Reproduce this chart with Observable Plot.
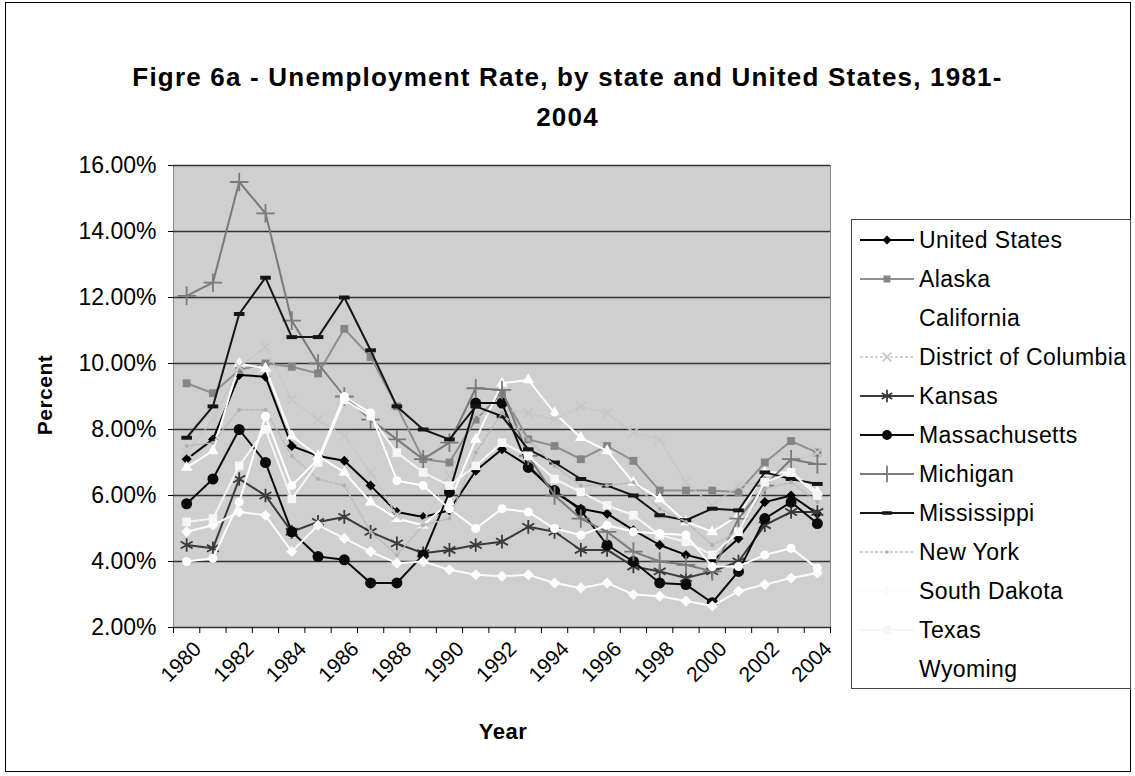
<!DOCTYPE html>
<html><head><meta charset="utf-8">
<script src="https://cdn.jsdelivr.net/npm/d3@7"></script>
<script src="https://cdn.jsdelivr.net/npm/@observablehq/plot@0.6"></script>
<style>
body{margin:0;background:#fff;font-family:"Liberation Sans",Arial,sans-serif;color:#000;}
#wrap{position:relative;width:1135px;height:776px;overflow:hidden;background:#fff;}
#border{position:absolute;left:5px;top:2px;width:1126px;height:770px;border:1.5px solid #000;box-sizing:border-box;}
#title{position:absolute;left:0;width:1135px;top:57px;text-align:center;font-weight:bold;font-size:26px;letter-spacing:1.2px;line-height:40px;}
#chart{position:absolute;left:0;top:0;}
#ylab{position:absolute;left:45px;top:395px;transform:translate(-50%,-50%) rotate(-90deg);font-weight:bold;font-size:21px;letter-spacing:0.5px;white-space:nowrap;}
#xlab{position:absolute;left:503px;top:732px;transform:translate(-50%,-50%);font-weight:bold;font-size:22px;letter-spacing:0.5px;}
#legend{position:absolute;left:851px;top:219px;width:280px;height:470px;border:1px solid #444;box-sizing:border-box;background:#fff;}
.row{position:absolute;left:0;height:30px;display:flex;align-items:center;}
.row svg{margin-left:8px;}
.row span{margin-left:5px;font-size:23px;letter-spacing:0.4px;white-space:nowrap;}
</style></head>
<body>
<div id="wrap">
  <div id="chart"></div>
  <div id="border"></div>
  <div id="title">Figre 6a - Unemployment Rate, by state and United States, 1981-<br>2004</div>
  <div id="ylab">Percent</div>
  <div id="xlab">Year</div>
  <div id="legend"></div>
</div>
<script>
const years = [1980,1981,1982,1983,1984,1985,1986,1987,1988,1989,1990,1991,1992,1993,1994,1995,1996,1997,1998,1999,2000,2001,2002,2003,2004];
const xTickLabels = [1980,1982,1984,1986,1988,1990,1992,1994,1996,1998,2000,2002,2004];
const yTicks = [0.02,0.04,0.06,0.08,0.10,0.12,0.14,0.16];

const unitedStates   = [7.1,7.7,9.65,9.6,7.5,7.2,7.05,6.3,5.5,5.35,5.55,6.75,7.4,6.9,6.1,5.6,5.45,4.95,4.5,4.2,4.0,4.7,5.8,6.0,5.45];
const alaska         = [9.4,9.1,9.8,10.0,9.9,9.7,11.05,10.2,8.7,7.1,7.0,8.3,9.1,7.7,7.5,7.1,7.5,7.05,6.15,6.15,6.15,6.1,7.0,7.65,7.3];
const california     = [6.85,7.35,10.0,9.85,7.8,7.2,6.7,5.8,5.3,5.1,5.8,7.7,9.4,9.5,8.5,7.75,7.35,6.4,5.9,5.2,4.9,5.4,6.7,6.7,6.1];
const districtOfColumbia = [7.3,8.3,9.9,10.5,8.9,8.3,7.8,6.7,5.4,5.2,6.6,8.5,8.6,8.5,8.3,8.7,8.5,7.9,7.7,6.4,5.7,6.3,6.4,7.0,7.3];
const kansas         = [4.5,4.4,6.5,6.0,4.9,5.2,5.35,4.9,4.55,4.25,4.35,4.5,4.6,5.05,4.9,4.35,4.35,3.85,3.7,3.5,3.7,4.0,5.1,5.5,5.5];
const massachusetts  = [5.75,6.5,8.0,7.0,4.9,4.15,4.05,3.35,3.35,4.2,6.1,8.8,8.8,6.85,6.15,5.55,4.5,4.0,3.35,3.3,2.75,3.7,5.3,5.8,5.15];
const michigan       = [12.05,12.45,15.5,14.55,11.3,10.0,9.0,8.3,7.7,7.1,7.6,9.25,9.2,7.2,6.0,5.3,4.9,4.3,4.0,3.9,3.7,5.3,6.3,7.1,6.95];
const mississippi    = [7.75,8.7,11.5,12.6,10.8,10.8,12.0,10.4,8.7,8.0,7.7,8.7,8.4,7.4,7.0,6.5,6.3,6.0,5.4,5.25,5.6,5.55,6.7,6.5,6.35];
const newYork        = [7.5,7.6,8.6,8.6,7.2,6.5,6.3,4.9,4.2,5.1,5.3,7.3,8.5,7.7,6.9,6.3,6.3,6.4,5.6,5.2,4.5,4.9,6.2,6.4,5.8];
const southDakota    = [4.9,5.1,5.5,5.4,4.3,5.1,4.7,4.3,3.95,4.0,3.75,3.6,3.55,3.6,3.35,3.2,3.35,3.0,2.95,2.8,2.65,3.1,3.3,3.5,3.65];
const texas          = [5.2,5.3,6.9,8.0,5.9,7.0,8.9,8.4,7.3,6.7,6.3,6.9,7.6,7.2,6.5,6.1,5.7,5.4,4.8,4.6,4.2,4.9,6.4,6.7,6.0];
const wyoming        = [4.0,4.1,5.8,8.4,6.3,7.1,9.0,8.5,6.45,6.3,5.6,5.0,5.6,5.5,5.0,4.8,5.1,4.9,4.85,4.8,3.85,3.85,4.2,4.4,3.8];

const dash = {draw(ctx, size){const s=Math.sqrt(size); ctx.rect(-s*0.75,-s*0.28,s*1.5,s*0.56);}};

const series = [
  {name:"United States", values:unitedStates, stroke:"#000", fill:"#000", symbol:"diamond2", r:4.5, w:2},
  {name:"Alaska", values:alaska, stroke:"#8f8f8f", fill:"#858585", symbol:"square2", r:5, w:2},
  {name:"California", values:california, stroke:"#fff", fill:"#fff", symbol:"triangle2", r:5.5, w:2},
  {name:"District of Columbia", values:districtOfColumbia, stroke:"#c6c6c6", fill:"none", symbol:"times", r:4.5, w:1.5, dot:true},
  {name:"Kansas", values:kansas, stroke:"#3a3a3a", fill:"none", symbol:"asterisk", r:6.5, w:2},
  {name:"Massachusetts", values:massachusetts, stroke:"#0a0a0a", fill:"#0a0a0a", symbol:"circle", r:5.5, w:2},
  {name:"Michigan", values:michigan, stroke:"#7a7a7a", fill:"none", symbol:"plus", r:6, w:2},
  {name:"Mississippi", values:mississippi, stroke:"#151515", fill:"#151515", symbol:dash, r:4, w:2},
  {name:"New York", values:newYork, stroke:"#bababa", fill:"#b0b0b0", symbol:"circle", r:2, w:1.5, dot:true},
  {name:"South Dakota", values:southDakota, stroke:"#fbfbfb", fill:"#fbfbfb", symbol:"diamond2", r:5, w:2},
  {name:"Texas", values:texas, stroke:"#f6f6f6", fill:"#f6f6f6", symbol:"square2", r:5.5, w:2},
  {name:"Wyoming", values:wyoming, stroke:"#ffffff", fill:"#ffffff", symbol:"circle", r:4.5, w:2}
];

const boundaries = d3.range(years.length + 1).map(i => years[0] - 0.5 + i);

const marks = [
  Plot.frame({fill:"#cfcfcf", stroke:"#8a8a8a"}),
  Plot.gridY({ticks:yTicks, stroke:"#333", strokeOpacity:1, strokeWidth:1.6}),
  Plot.axisY({ticks:yTicks, tickFormat:d3.format(".2%"), tickSize:5, tickPadding:12, fontSize:23, label:null}),
  Plot.axisX({ticks:boundaries, tickFormat:()=>"", tickSize:6, label:null}),
  Plot.axisX({ticks:xTickLabels, tickFormat:d=>String(d), tickSize:0, tickRotate:-45, tickPadding:18, dx:11, fontSize:21, label:null})
];
for (const s of series) {
  const data = s.values.map((v,i)=>({year:years[i], value:v/100}));
  marks.push(Plot.line(data, {x:"year", y:"value", stroke:s.stroke, strokeWidth:s.w, strokeDasharray: s.dot ? "3,2" : null}));
  const isStrokeSym = s.fill === "none";
  marks.push(Plot.dot(data, {x:"year", y:"value", symbol:()=>s.symbol, r:s.r,
    fill: isStrokeSym ? "none" : s.fill, stroke: isStrokeSym ? s.stroke : "none", strokeWidth: isStrokeSym ? 1.8 : 0}));
}

const chart = Plot.plot({
  width:1135, height:776,
  marginLeft:173, marginRight:305, marginTop:165, marginBottom:149,
  style:{fontFamily:"'Liberation Sans', Arial, sans-serif", fontSize:"21px", color:"#000", background:"transparent", overflow:"visible"},
  x:{type:"linear", domain:[1979.5,2004.5]},
  y:{domain:[0.02,0.16]},
  symbol:{type:"identity"},
  marks
});
document.getElementById("chart").appendChild(chart);

// legend
const legend = d3.select("#legend");
series.forEach((s,i)=>{
  const row = legend.append("div").attr("class","row").style("top", (5 + i*39) + "px");
  const svg = row.append("svg").attr("width",54).attr("height",30);
  svg.append("line").attr("x1",0).attr("x2",54).attr("y1",15).attr("y2",15)
    .attr("stroke", s.stroke).attr("stroke-width", s.w).attr("stroke-dasharray", s.dot ? "3,2" : null);
  const symMap = {diamond2:d3.symbolDiamond2, square2:d3.symbolSquare2, triangle2:d3.symbolTriangle2, times:d3.symbolTimes, asterisk:d3.symbolAsterisk, circle:d3.symbolCircle, plus:d3.symbolPlus};
  const symType = typeof s.symbol === "string" ? symMap[s.symbol] : s.symbol;
  const isStrokeSym = s.fill === "none";
  svg.append("path").attr("transform","translate(27,15)")
    .attr("d", d3.symbol(symType, Math.PI*s.r*s.r*0.8)())
    .attr("fill", isStrokeSym ? "none" : s.fill)
    .attr("stroke", isStrokeSym ? s.stroke : "none").attr("stroke-width", 1.8);
  row.append("span").text(s.name);
});
</script>
</body></html>
